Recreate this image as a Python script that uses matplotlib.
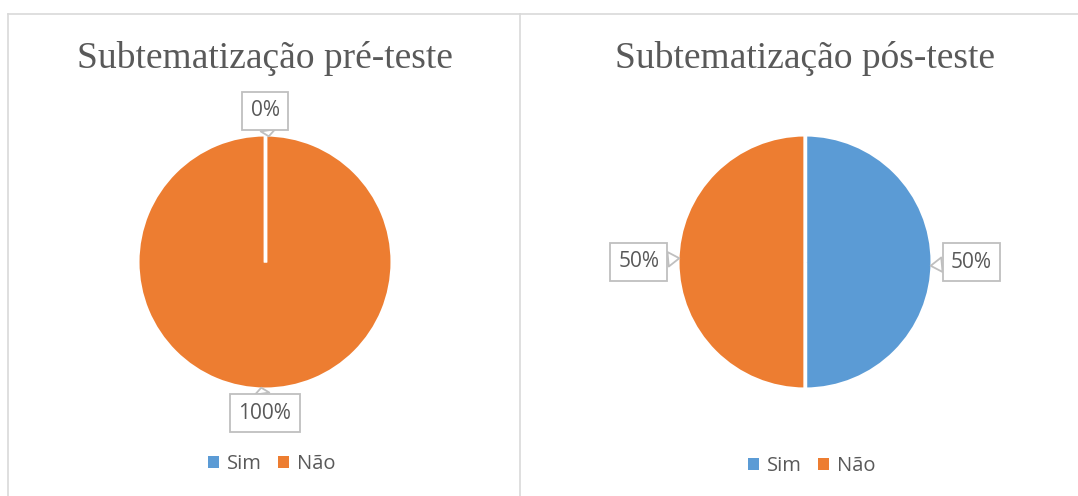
import numpy as np
import matplotlib.pyplot as plt
from matplotlib.lines import Line2D
from matplotlib.patches import Patch

# data
categories = ["Sim", "Não"]
pre_values = [0, 100]
pos_values = [50, 50]
titles = ["Subtematização pré-teste", "Subtematização pós-teste"]
colors = ["#5B9BD5", "#ED7D31"]

W, H = 1078, 496
fig = plt.figure(figsize=(W / 100, H / 100), dpi=100)
fig.patch.set_facecolor("white")

grid_c = "#D9D9D9"
text_c = "#595959"

# panel frame lines (pixels -> figure coords)
def fx(px):
    return px / W

def fy(py):
    return 1 - py / H

fig.add_artist(Line2D([fx(8), 1], [fy(14), fy(14)], color=grid_c, lw=1.2))
fig.add_artist(Line2D([fx(8), fx(8)], [fy(14), 0], color=grid_c, lw=1.2))
fig.add_artist(Line2D([fx(520), fx(520)], [fy(14), 0], color=grid_c, lw=1.2))

centers = [265, 805]
cy = 262
R = 127
half = 200
L = half / R

for i, vals in enumerate([pre_values, pos_values]):
    cx = centers[i]
    ax = fig.add_axes([fx(cx - half), fy(cy + half), 2 * half / W, 2 * half / H])
    wedges, _ = ax.pie(vals, colors=colors, startangle=90, counterclock=False,
                       radius=1, wedgeprops=dict(edgecolor="white", linewidth=2.2))
    ax.set_xlim(-L, L)
    ax.set_ylim(-L, L)
    ax.set_aspect("equal")
    ax.axis("off")

    # white separators at each slice boundary
    for w in wedges:
        t = np.deg2rad(w.theta1)
        ax.plot([0, np.cos(t)], [0, np.sin(t)], color="white", lw=2.5,
                solid_capstyle="butt")

    total = sum(vals)
    for w, v in zip(wedges, vals):
        ang = np.deg2rad((w.theta1 + w.theta2) / 2)
        d = 1.19 + 0.12 * abs(np.cos(ang))
        ax.annotate(f"{v / total:.0%}",
                    xy=(0.99 * np.cos(ang - 0.03), 0.99 * np.sin(ang - 0.03)),
                    xytext=(d * np.cos(ang), d * np.sin(ang)),
                    ha="center", va="center", fontsize=15, color=text_c,
                    family="Open Sans",
                    bbox=dict(boxstyle="square,pad=0.4", fc="white",
                              ec="#BFBFBF", lw=1.3),
                    arrowprops=dict(arrowstyle="wedge,tail_width=0.7",
                                    fc="white", ec="#BFBFBF", lw=1.3,
                                    shrinkA=0, shrinkB=0))

    fig.text(fx(cx), fy(58), titles[i], ha="center", va="center",
             fontsize=27, color=text_c, family="Liberation Serif")

    handles = [Patch(facecolor=c, edgecolor="none") for c in colors]
    fig.legend(handles, categories, loc="center",
               bbox_to_anchor=(fx(cx + 7), fy(464 + 2 * i)), ncol=2, frameon=False,
               prop=dict(family="Open Sans", size=14.5), labelcolor=text_c,
               handlelength=0.55, handleheight=0.55, handletextpad=0.4,
               columnspacing=0.8)

fig.savefig("out.png", dpi=100, facecolor="white")
